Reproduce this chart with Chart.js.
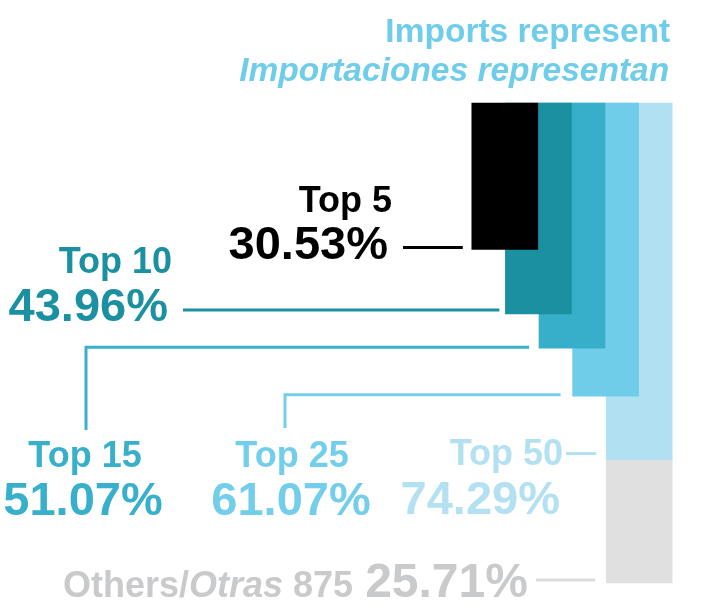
<!DOCTYPE html>
<html>
<head>
<meta charset="utf-8">
<script src="https://cdn.jsdelivr.net/npm/chart.js@4.4.1/dist/chart.umd.min.js"></script>
<style>
  html, body { margin: 0; padding: 0; background: #ffffff; }
  #wrap { width: 720px; height: 608px; position: relative; }
</style>
</head>
<body>
<div id="wrap"><canvas id="c"></canvas></div>
<script>
// ---- data ----
const categories = ['Top 5', 'Top 10', 'Top 15', 'Top 25', 'Top 50'];
const shares = [30.53, 43.96, 51.07, 61.07, 74.29];
const othersShare = 25.71;
const othersCount = 875;
const barColors = ['#000000', '#1B90A1', '#37AFCB', '#6FCDEA', '#B0E0F2'];
const textColors = ['#000000', '#1B90A1', '#38AFCB', '#72CEEA', '#B3E1F2'];
const othersColor = '#E0E0E0';
const othersTextColor = '#C9CACC';
const titleLines = ['Imports represent', 'Importaciones representan'];
const titleColor = '#6FCDEA';

const FONT = '"Liberation Sans", Arial, Helvetica, sans-serif';
const fmt = v => v.toFixed(2) + '%';

const datasets = categories.map((c, i) => ({
  label: c,
  data: categories.map((_, j) => (j === i ? [0, shares[i]] : null)),
  backgroundColor: barColors[i],
  borderWidth: 0,
  grouped: false,
  barThickness: 66,
  clip: false
}));
datasets.push({
  label: 'Others/Otras',
  data: categories.map((_, j) => (j === categories.length - 1 ? [shares[j], shares[j] + othersShare] : null)),
  backgroundColor: othersColor,
  borderWidth: 0,
  grouped: false,
  barThickness: 66,
  clip: false
});

function txt(ctx, s, x, y, size, color, align, italic) {
  ctx.font = (italic ? 'italic ' : '') + 'bold ' + size + 'px ' + FONT;
  ctx.fillStyle = color;
  ctx.textAlign = align || 'left';
  ctx.textBaseline = 'alphabetic';
  ctx.fillText(s, x, y);
  return ctx.measureText(s).width;
}
function line(ctx, pts, color) {
  ctx.strokeStyle = color;
  ctx.lineWidth = 3;
  ctx.lineCap = 'butt';
  ctx.lineJoin = 'miter';
  ctx.beginPath();
  ctx.moveTo(pts[0][0], pts[0][1]);
  for (let k = 1; k < pts.length; k++) ctx.lineTo(pts[k][0], pts[k][1]);
  ctx.stroke();
}

const annotations = {
  id: 'annotations',
  afterDatasetsDraw(chart) {
    const ctx = chart.ctx;
    const y = chart.scales.y;
    const barLeft = i => {
      const idx = Math.min(i, categories.length - 1);
      const el = chart.getDatasetMeta(i).data[idx];
      return el.x - el.width / 2;
    };
    const barRight = i => {
      const idx = Math.min(i, categories.length - 1);
      const el = chart.getDatasetMeta(i).data[idx];
      return el.x + el.width / 2;
    };
    ctx.save();

    // title
    const tr = barRight(4) - 2;
    txt(ctx, titleLines[0], tr, 42, 33.5, titleColor, 'right', false);
    txt(ctx, titleLines[1], tr - 1, 81, 33.5, titleColor, 'right', true);

    // Top 5
    txt(ctx, categories[0], 392, 212, 36, textColors[0], 'right');
    txt(ctx, fmt(shares[0]), 388, 259, 47, textColors[0], 'right');
    let ly = y.getPixelForValue(shares[0]) - 2;
    line(ctx, [[403, ly], [barLeft(0) - 9, ly]], textColors[0]);

    // Top 10
    txt(ctx, categories[1], 172, 273, 36, textColors[1], 'right');
    txt(ctx, fmt(shares[1]), 168, 321, 47, textColors[1], 'right');
    ly = y.getPixelForValue(shares[1]) - 4;
    line(ctx, [[183, ly], [barLeft(1) - 6, ly]], textColors[1]);

    // Top 15
    txt(ctx, categories[2], 85, 467, 36, textColors[2], 'center');
    txt(ctx, fmt(shares[2]), 83, 515, 47, textColors[2], 'center');
    ly = y.getPixelForValue(shares[2]) - 1;
    line(ctx, [[86, 430], [86, ly], [barLeft(2) - 10, ly]], textColors[2]);

    // Top 25
    txt(ctx, categories[3], 292, 467, 36, textColors[3], 'center');
    txt(ctx, fmt(shares[3]), 291, 515, 47, textColors[3], 'center');
    ly = y.getPixelForValue(shares[3]) - 1.5;
    line(ctx, [[285, 428], [285, ly], [barLeft(3) - 12, ly]], textColors[3]);

    // Top 50
    txt(ctx, categories[4], 563, 465, 36, textColors[4], 'right');
    txt(ctx, fmt(shares[4]), 560, 514, 47, textColors[4], 'right');
    ly = y.getPixelForValue(shares[4]) - 6;
    line(ctx, [[566, ly], [barLeft(4) - 10, ly]], textColors[4]);

    // Others
    let x = 63;
    x += txt(ctx, 'Others/', x, 597, 36, othersTextColor, 'left', false);
    x += txt(ctx, 'Otras', x, 597, 36, othersTextColor, 'left', true);
    x += txt(ctx, ' ' + othersCount, x, 597, 36, othersTextColor, 'left', false);
    x += 12;
    x += txt(ctx, fmt(othersShare), x, 597, 48, othersTextColor, 'left', false);
    ly = y.getPixelForValue(100) - 3;
    line(ctx, [[x + 8, ly], [barLeft(5) - 11, ly]], '#DCDCDC');

    ctx.restore();
  }
};

new Chart(document.getElementById('c'), {
  type: 'bar',
  data: { labels: categories, datasets },
  options: {
    responsive: true,
    maintainAspectRatio: false,
    animation: false,
    layout: { padding: { left: 488, right: 64, top: 103, bottom: 25 } },
    plugins: { legend: { display: false }, tooltip: { enabled: false }, title: { display: false } },
    scales: {
      x: { display: false, offset: true, stacked: false },
      y: { display: false, min: 0, max: 100, reverse: true }
    }
  },
  plugins: [annotations]
});
</script>
</body>
</html>
